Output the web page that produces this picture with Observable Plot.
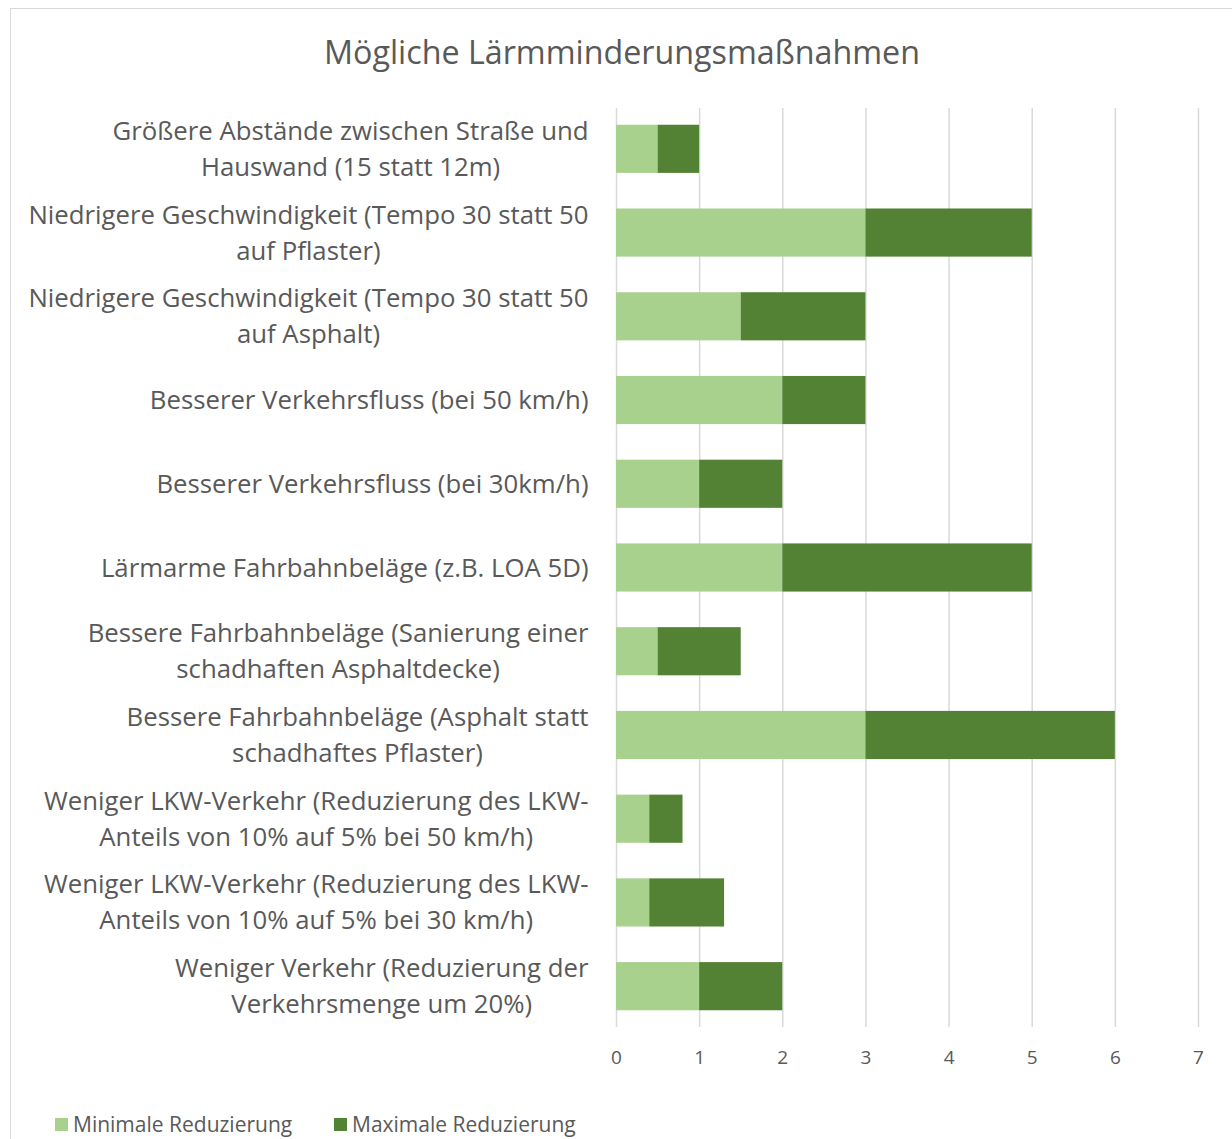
<!DOCTYPE html>
<html><head><meta charset="utf-8">
<script src="https://cdn.jsdelivr.net/npm/d3@7"></script>
<script src="https://cdn.jsdelivr.net/npm/@observablehq/plot@0.6"></script>
<style>
html,body{margin:0;padding:0;background:#fff}
body{width:1232px;height:1139px;overflow:hidden;position:relative;font-family:"Open Sans",sans-serif;color:#595959}
#frame{position:absolute;left:10px;top:8px;width:1260px;height:1200px;border:1.5px solid #d9d9d9;box-sizing:border-box}
#title{position:absolute;top:33px;left:0;width:1244px;text-align:center;white-space:nowrap;line-height:1.2;font-size:32.25px}
#chart{position:absolute;left:0;top:0}
.leg{position:absolute;top:1110px;display:flex;align-items:center;white-space:nowrap;font-size:21px}
.sw{width:13px;height:13px;margin-right:5px;flex:none}
</style></head>
<body>
<div id="frame"></div>
<div id="title"></div>
<div id="chart"></div>
<div id="legend"></div>
<script>
const titleText = "Mögliche Lärmminderungsmaßnahmen";
const categories = [
  "Größere Abstände zwischen Straße und\nHauswand (15 statt 12m)",
  "Niedrigere Geschwindigkeit (Tempo 30 statt 50\nauf Pflaster)",
  "Niedrigere Geschwindigkeit (Tempo 30 statt 50\nauf Asphalt)",
  "Besserer Verkehrsfluss (bei 50 km/h)",
  "Besserer Verkehrsfluss (bei 30km/h)",
  "Lärmarme Fahrbahnbeläge (z.B. LOA 5D)",
  "Bessere Fahrbahnbeläge (Sanierung einer\nschadhaften Asphaltdecke)",
  "Bessere Fahrbahnbeläge (Asphalt statt\nschadhaftes Pflaster)",
  "Weniger LKW-Verkehr (Reduzierung des LKW-\nAnteils von 10% auf 5% bei 50 km/h)",
  "Weniger LKW-Verkehr (Reduzierung des LKW-\nAnteils von 10% auf 5% bei 30 km/h)",
  "Weniger Verkehr (Reduzierung der\nVerkehrsmenge um 20%)"
];
const minValues = [0.5, 3, 1.5, 2, 1, 2, 0.5, 3, 0.4, 0.4, 1];
const maxValues = [1, 5, 3, 3, 2, 5, 1.5, 6, 0.8, 1.3, 2];
const xTicks = [0, 1, 2, 3, 4, 5, 6, 7];
const seriesNames = ["Minimale Reduzierung", "Maximale Reduzierung"];
const seriesColors = ["#A9D18E", "#548235"];

const FONT = '"Open Sans"';
const labelSize = 25.75;
const textColor = "#595959";
const ctx = document.createElement("canvas").getContext("2d");
function measure(t, size){ ctx.font = size + "px " + FONT; return ctx.measureText(t).width; }

document.getElementById("title").textContent = titleText;

const rows = categories.map((c, i) => ({cat: c, min: minValues[i], max: maxValues[i]}));

const labelMarks = rows.map(r => {
  const w = d3.max(r.cat.split("\n"), l => measure(l, labelSize));
  return Plot.text([r], {
    y: "cat", text: "cat", frameAnchor: "left", textAnchor: "middle",
    lineAnchor: "middle", lineHeight: 36 / labelSize,
    dx: -(28 + w / 2), dy: -3, fontSize: labelSize, fill: textColor
  });
});

const chart = Plot.plot({
  width: 1232,
  height: 1100,
  marginLeft: 616,
  marginRight: 34,
  marginTop: 108,
  marginBottom: 73,
  style: {fontFamily: FONT, color: textColor, background: "transparent", overflow: "visible"},
  x: {domain: [0, 7], axis: null},
  y: {domain: categories, axis: null, paddingInner: 0.425, paddingOuter: 0.2, round: false},
  marks: [
    Plot.gridX(xTicks, {stroke: "#d9d9d9", strokeOpacity: 1, strokeWidth: 1.5}),
    Plot.barX(rows, {y: "cat", x1: 0, x2: "min", fill: seriesColors[0]}),
    Plot.barX(rows, {y: "cat", x1: "min", x2: "max", fill: seriesColors[1]}),
    Plot.axisX({ticks: xTicks, tickSize: 0, tickPadding: 23, fontSize: 19, fill: textColor, tickFormat: d => String(d)}),
    ...labelMarks
  ]
});
document.getElementById("chart").appendChild(chart);

const legend = document.getElementById("legend");
const legLeft = [55, 334];
seriesNames.forEach((name, i) => {
  const item = document.createElement("div");
  item.className = "leg";
  item.style.left = legLeft[i] + "px";
  const sw = document.createElement("div");
  sw.className = "sw";
  sw.style.background = seriesColors[i];
  const tx = document.createElement("span");
  tx.textContent = name;
  item.appendChild(sw); item.appendChild(tx);
  legend.appendChild(item);
});
</script>
</body></html>
